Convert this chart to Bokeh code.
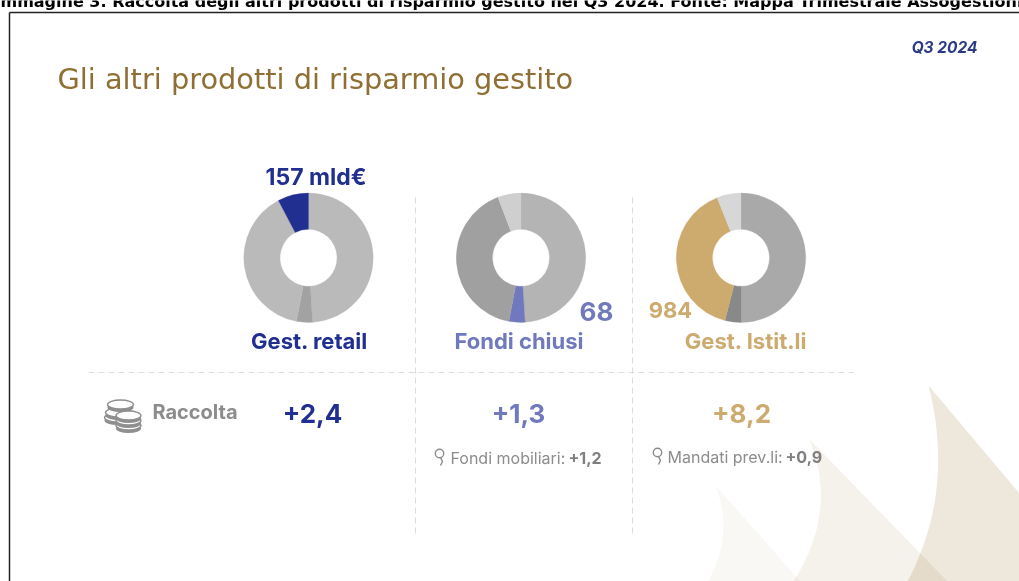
import math
from bokeh.plotting import figure
from bokeh.models import ColumnDataSource
from bokeh.core.properties import value
from bokeh.embed import file_html
from bokeh.resources import INLINE

W, H = 1019, 581
FONT = "Inter"

# ---- data ----
categories = ["Gest. retail", "Fondi chiusi", "Gest. Istit.li"]
retail_shares = [49.0, 4.0, 39.3, 7.7]
chiusi_shares = [49.0, 4.0, 41.2, 5.8]
istit_shares = [50.0, 4.0, 40.0, 6.0]
retail_colors = ["#bababa", "#a2a2a2", "#bababa", "#212f90"]
chiusi_colors = ["#b4b4b4", "#7079bd", "#a0a0a0", "#cfcfcf"]
istit_colors = ["#a9a9a9", "#898989", "#cdab6f", "#d7d7d7"]
raccolta = ["+2,4", "+1,3", "+8,2"]
cat_colors = ["#212f90", "#7079bd", "#cdab6f"]

p = figure(width=W, height=H, x_range=(0, W), y_range=(0, H), toolbar_location=None,
           output_backend="svg", min_border=0, outline_line_color=None,
           background_fill_color="white", border_fill_color="white",
           styles={"position": "fixed", "left": "0px", "top": "0px"})
p.axis.visible = False
p.grid.visible = False


def Y(v):
    return H - v


def txt(x, y, s, size, color, style="normal", align="left", font=FONT):
    p.text([x], [Y(y)], text=[s], text_font=value(font), text_font_size=f"{size}px",
           text_font_style=style, text_color=color, text_align=align, text_baseline="middle")


def curve(p0, c, p1, n=24):
    out = []
    for i in range(n + 1):
        t = i / n
        out.append(((1 - t) ** 2 * p0[0] + 2 * t * (1 - t) * c[0] + t ** 2 * p1[0],
                    (1 - t) ** 2 * p0[1] + 2 * t * (1 - t) * c[1] + t ** 2 * p1[1]))
    return out


# background sails
for apex, ctrl, foot, right, alpha in [
    ((715, 485), (734, 535), (707, 581), [(800, 581)], 0.05),
    ((809, 439), (838, 510), (793, 581), [(947, 581)], 0.10),
    ((928, 385), (955, 490), (907, 581), [(1019, 581), (1019, 493)], 0.18),
]:
    pts = curve(apex, ctrl, foot) + right
    p.patch([a for a, _ in pts], [Y(b) for _, b in pts], fill_color="#9a7a3f",
            fill_alpha=alpha, line_color=None)

# page frame and caption
p.line([9, 9], [Y(12), Y(581)], line_color="#222222", line_width=1.5)
p.line([9, 1019], [Y(12), Y(12)], line_color="#222222", line_width=1.5)
txt(-6, 1, "Immagine 3. Raccolta degli altri prodotti di risparmio gestito nel Q3 2024. Fonte: Mappa Trimestrale Assogestioni",
    16, "#000000", "bold", font="DejaVu Sans")

txt(57, 78, "Gli altri prodotti di risparmio gestito", 28.8, "#8f6f33", font="DejaVu Sans")
txt(977, 47, "Q3 2024", 15.5, "#2b3a86", "bold italic", "right")

# dividers
DASH = "6 4"
p.line([88, 853], [Y(372), Y(372)], line_color="#dcdcdc", line_width=1, line_dash=DASH)
p.line([415, 415], [Y(197), Y(535)], line_color="#dcdcdc", line_width=1, line_dash=DASH)
p.line([632, 632], [Y(197), Y(535)], line_color="#dcdcdc", line_width=1, line_dash=DASH)

# donuts
for cx, shares, cols in [(308, retail_shares, retail_colors),
                         (520.5, chiusi_shares, chiusi_colors),
                         (740.5, istit_shares, istit_colors)]:
    total = sum(shares)
    cum = 0.0
    starts, ends = [], []
    for s in shares:
        ends.append(math.pi / 2 - 2 * math.pi * cum / total)
        cum += s
        starts.append(math.pi / 2 - 2 * math.pi * cum / total)
    src = ColumnDataSource(dict(start=starts, end=ends, color=cols,
                                x=[cx] * 4, y=[Y(257.3)] * 4))
    p.annular_wedge(x="x", y="y", inner_radius=28.5, outer_radius=64.7, start_angle="start",
                    end_angle="end", fill_color="color", line_color="color", line_width=0.3,
                    source=src)

# labels
txt(315.5, 176, "157 mld€", 23, cat_colors[0], "bold", "center")
txt(596, 311, "68", 26, cat_colors[1], "bold", "center")
txt(670, 309, "984", 22, cat_colors[2], "bold", "center")
for x, c, col in zip([309, 518.5, 745.5], categories, cat_colors):
    txt(x, 340.5, c, 22, col, "bold", "center")

# raccolta row
txt(194.5, 411, "Raccolta", 20, "#8c8c8c", "bold", "center")
for x, v, col in zip([312, 518, 741], raccolta, cat_colors):
    txt(x, 412.5, v, 26, col, "bold", "center")

txt(450, 457, "Fondi mobiliari:", 16, "#8c8c8c")
txt(568, 457, "+1,2", 16, "#7f7f7f", "bold")
txt(667, 456, "Mandati prev.li:", 16, "#8c8c8c")
txt(785, 456, "+0,9", 16, "#7f7f7f", "bold")

# pin icons
for x, y in [(439, 453), (657, 452)]:
    p.circle([x], [Y(y)], radius=4.2, fill_color="white", line_color="#8c8c8c", line_width=1.4)
    p.line([x + 1, x + 3, x + 1], [Y(y + 4), Y(y + 8), Y(y + 12)], line_color="#8c8c8c", line_width=1.4)

# coin icon
for x, y, w in [(117, 416, 26), (118, 411, 26), (120, 403, 26), (128, 424, 25), (128, 419, 25), (128, 414, 25)]:
    p.ellipse([x], [Y(y + 4)], width=w, height=9, fill_color="#8f8f8f", line_color=None)
    p.ellipse([x], [Y(y + 1)], width=w, height=9, fill_color="white", line_color="#8f8f8f", line_width=1.4)

open("out.html", "w").write(file_html(p, INLINE))
